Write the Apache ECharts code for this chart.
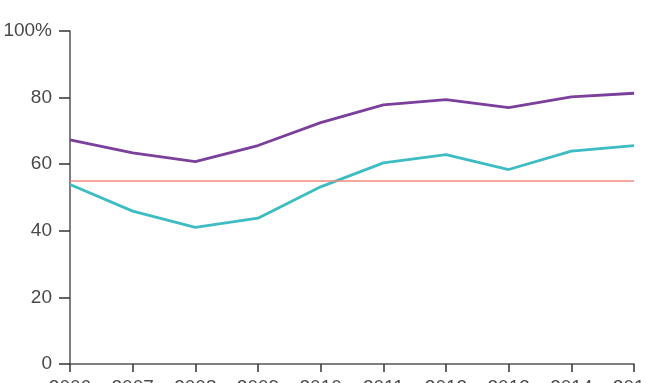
<!DOCTYPE html>
<html>
<head>
<meta charset="utf-8">
<script src="https://cdn.jsdelivr.net/npm/echarts@6/dist/echarts.min.js"></script>
<style>html,body{margin:0;padding:0;background:#fff;}#c{width:646px;height:383px;}</style>
</head>
<body>
<div id="c"></div>
<script>
const years = ['2006','2007','2008','2009','2010','2011','2012','2013','2014','2015'];
const purpleValues = [67.3, 63.4, 60.8, 65.6, 72.5, 77.8, 79.4, 77.0, 80.2, 81.3];
const tealValues = [53.9, 45.9, 41.0, 43.8, 53.2, 60.4, 62.9, 58.4, 63.9, 65.6];
const referenceLevel = 55;
const yTicks = [0, 20, 40, 60, 80, 100];

const chart = echarts.init(document.getElementById('c'), null, {renderer: 'canvas'});
const labelFont = {fontFamily: 'Liberation Sans', fontSize: 19, fontWeight: 'normal', color: '#4a4a4a'};
chart.setOption({
  animation: false,
  grid: {left: 70, right: 12, top: 31, bottom: 19, containLabel: false, outerBoundsMode: 'none'},
  xAxis: {
    type: 'category', data: years, boundaryGap: false,
    axisLine: {lineStyle: {color: '#555', width: 1.5}},
    axisTick: {length: 8, lineStyle: {color: '#333', width: 1.5}},
    axisLabel: Object.assign({margin: 14, interval: 0, hideOverlap: false}, labelFont),
    splitLine: {show: false}
  },
  yAxis: {
    type: 'value', min: yTicks[0], max: yTicks[yTicks.length - 1], interval: 20,
    axisLine: {show: true, lineStyle: {color: '#555', width: 1.5}},
    axisTick: {show: true, length: 11, lineStyle: {color: '#333', width: 1.5}},
    axisLabel: Object.assign({margin: 18, formatter: v => v === 100 ? '100%' : String(v)}, labelFont),
    splitLine: {show: false}
  },
  series: [
    {
      type: 'line', data: purpleValues, symbol: 'none',
      lineStyle: {color: '#7b3f9c', width: 2.8}, itemStyle: {color: '#7b3f9c'},
      z: 3
    },
    {
      type: 'line', data: tealValues, symbol: 'none',
      lineStyle: {color: '#3dbcc4', width: 2.8}, itemStyle: {color: '#3dbcc4'},
      z: 3,
      markLine: {
        silent: true, symbol: 'none', label: {show: false},
        lineStyle: {color: '#f08a7e', width: 1.6, type: 'solid'},
        data: [{yAxis: referenceLevel}]
      }
    }
  ]
});
</script>
</body>
</html>
